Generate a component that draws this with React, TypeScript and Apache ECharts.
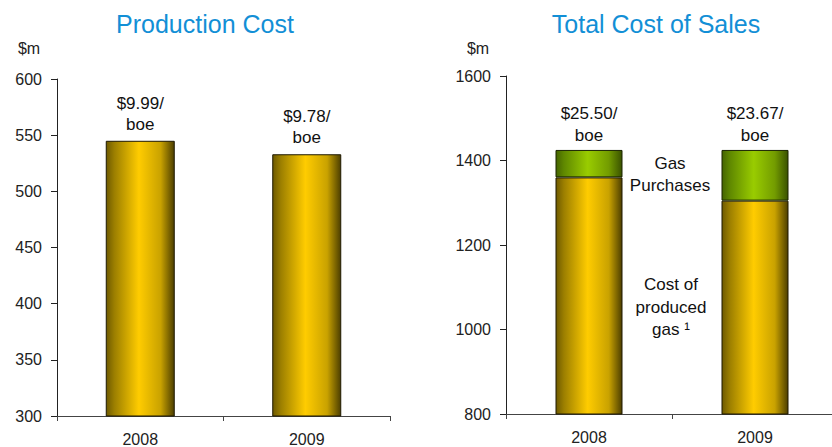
import React, { useEffect, useRef } from "react";
import * as echarts from "echarts";

const years = ["2008", "2009"];
const productionCost = [545, 533];
const productionBoe = ["$9.99/\nboe", "$9.78/\nboe"];
const costOfProducedGas = [1360, 1305];
const gasPurchases = [65, 120];
const salesBoe = ["$25.50/\nboe", "$23.67/\nboe"];

const FONT = "Liberation Sans, Arial, sans-serif";

const yellowGrad = new echarts.graphic.LinearGradient(0, 0, 1, 0, [
  { offset: 0, color: "#6e5a00" },
  { offset: 0.12, color: "#9c7f00" },
  { offset: 0.48, color: "#ffcc00" },
  { offset: 0.8, color: "#c9a200" },
  { offset: 1, color: "#4d3f00" },
]);
const greenGrad = new echarts.graphic.LinearGradient(0, 0, 1, 0, [
  { offset: 0, color: "#456400" },
  { offset: 0.12, color: "#5f8800" },
  { offset: 0.48, color: "#99cc00" },
  { offset: 0.8, color: "#739c00" },
  { offset: 1, color: "#3a5200" },
]);

export default function App() {
  const ref = useRef<HTMLDivElement>(null);
  useEffect(() => {
    if (!ref.current) return;
    const chart = echarts.init(ref.current, null, { renderer: "svg" });
    const axisLabelY = {
      color: "#222",
      fontSize: 16,
      fontFamily: FONT,
      margin: 15,
      formatter: (v: number) => String(v),
    };
    const axisLabelX = { color: "#222", fontSize: 16, fontFamily: FONT, margin: 15 };
    chart.setOption({
      animation: false,
      grid: [
        { left: 57, top: 79, width: 333, height: 337.7 },
        { left: 506, top: 76, width: 332, height: 338 },
      ],
      xAxis: [
        {
          type: "category",
          gridIndex: 0,
          data: years,
          axisLine: { lineStyle: { color: "#444", width: 1 } },
          axisTick: { show: true, length: 5, lineStyle: { color: "#444" } },
          axisLabel: axisLabelX,
        },
        {
          type: "category",
          gridIndex: 1,
          data: years,
          axisLine: { lineStyle: { color: "#444", width: 1 } },
          axisTick: { show: true, length: 5, lineStyle: { color: "#444" } },
          axisLabel: axisLabelX,
        },
      ],
      yAxis: [
        {
          type: "value",
          gridIndex: 0,
          min: 300,
          max: 600,
          interval: 50,
          splitLine: { show: false },
          axisLine: { show: true, lineStyle: { color: "#222" } },
          axisTick: { show: true, length: 6, lineStyle: { color: "#222" } },
          axisLabel: axisLabelY,
        },
        {
          type: "value",
          gridIndex: 1,
          min: 800,
          max: 1600,
          interval: 200,
          splitLine: { show: false },
          axisLine: { show: true, lineStyle: { color: "#222" } },
          axisTick: { show: true, length: 6, lineStyle: { color: "#222" } },
          axisLabel: axisLabelY,
        },
      ],
      series: [
        {
          type: "bar",
          xAxisIndex: 0,
          yAxisIndex: 0,
          data: productionCost,
          barWidth: 69,
          itemStyle: { color: yellowGrad, borderColor: "#1e1800", borderWidth: 1 },
          label: {
            show: true,
            position: "top",
            distance: 6,
            formatter: (p: any) => productionBoe[p.dataIndex],
            color: "#111",
            fontSize: 17,
            lineHeight: 21,
            fontFamily: FONT,
            align: "center",
          },
        },
        {
          type: "bar",
          xAxisIndex: 1,
          yAxisIndex: 1,
          stack: "sales",
          data: costOfProducedGas,
          barWidth: 67,
          itemStyle: { color: yellowGrad, borderColor: "#1e1800", borderWidth: 1 },
        },
        {
          type: "bar",
          xAxisIndex: 1,
          yAxisIndex: 1,
          stack: "sales",
          data: gasPurchases,
          barWidth: 67,
          itemStyle: { color: greenGrad, borderColor: "#1a2400", borderWidth: 1 },
          label: {
            show: true,
            position: "top",
            distance: 3,
            formatter: (p: any) => salesBoe[p.dataIndex],
            color: "#111",
            fontSize: 17,
            lineHeight: 22,
            fontFamily: FONT,
            align: "center",
          },
        },
      ],
      graphic: [
        {
          type: "text",
          x: 205,
          y: 24,
          style: {
            text: "Production Cost",
            fill: "#128fd6",
            font: `25px ${FONT}`,
            textAlign: "center",
            textVerticalAlign: "middle",
          },
        },
        {
          type: "text",
          x: 656,
          y: 24,
          style: {
            text: "Total Cost of Sales",
            fill: "#128fd6",
            font: `25px ${FONT}`,
            textAlign: "center",
            textVerticalAlign: "middle",
          },
        },
        {
          type: "text",
          x: 29,
          y: 48,
          style: { text: "$m", fill: "#222", font: `16px ${FONT}`, textAlign: "center", textVerticalAlign: "middle" },
        },
        {
          type: "text",
          x: 478,
          y: 48,
          style: { text: "$m", fill: "#222", font: `16px ${FONT}`, textAlign: "center", textVerticalAlign: "middle" },
        },
        {
          type: "text",
          x: 670,
          y: 174,
          style: {
            text: "Gas\nPurchases",
            fill: "#111",
            font: `17px ${FONT}`,
            lineHeight: 22,
            textAlign: "center",
            textVerticalAlign: "middle",
          },
        },
        {
          type: "text",
          x: 671,
          y: 307,
          style: {
            text: "Cost of\nproduced\ngas ¹",
            fill: "#111",
            font: `17px ${FONT}`,
            lineHeight: 22.5,
            textAlign: "center",
            textVerticalAlign: "middle",
          },
        },
      ],
    });
    return () => chart.dispose();
  }, []);
  return (
    <div style={{ width: 832, height: 447, position: "absolute", left: 0, top: 0, overflow: "hidden" }}>
      <div ref={ref} style={{ width: 840, height: 447 }} />
    </div>
  );
}
